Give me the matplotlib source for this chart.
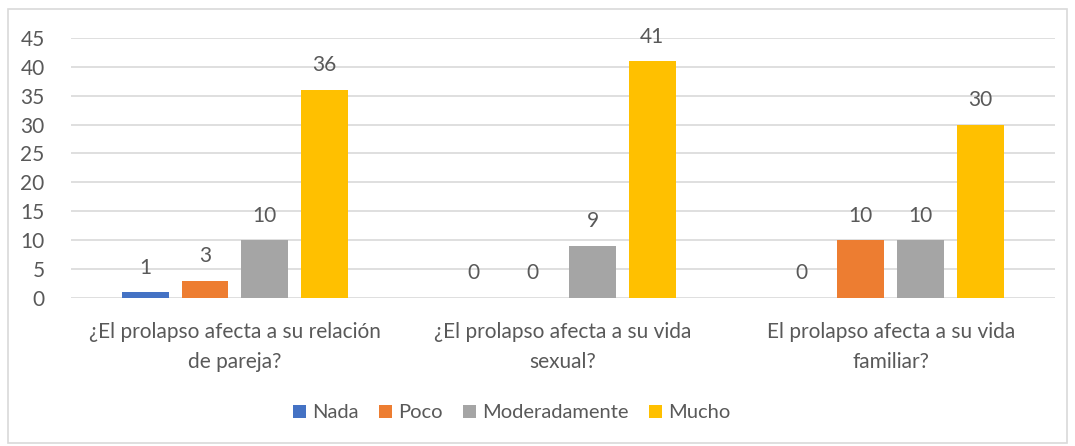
import matplotlib.pyplot as plt
import numpy as np
from matplotlib.patches import Rectangle

categories = [
    "¿El prolapso afecta a su relación\nde pareja?",
    "¿El prolapso afecta a su vida\nsexual?",
    "El prolapso afecta a su vida\nfamiliar?",
]
series = ["Nada", "Poco", "Moderadamente", "Mucho"]
values = {
    "Nada": [1, 0, 0],
    "Poco": [3, 0, 10],
    "Moderadamente": [10, 9, 10],
    "Mucho": [36, 41, 30],
}
colors = ["#4472C4", "#ED7D31", "#A5A5A5", "#FFC000"]

plt.rcParams["font.family"] = ["Lato", "DejaVu Sans"]
text_color = "#595959"

fig = plt.figure(figsize=(10.75, 4.46), dpi=100)
ax = fig.add_axes([0.066, 0.332, 0.915, 0.583])

x = np.arange(len(categories))
pitch = 0.182
width = 0.143
for i, (name, color) in enumerate(zip(series, colors)):
    offs = (i - 1.5) * pitch
    bars = ax.bar(x + offs, values[name], width, color=color, label=name, zorder=3)
    for b, v in zip(bars, values[name]):
        ax.text(b.get_x() + b.get_width() / 2, v + 2.5, str(v), ha="center",
                va="bottom", fontsize=15, color=text_color)

ax.set_xlim(-0.5, 2.5)
ax.set_ylim(0, 45)
ax.set_yticks(range(0, 46, 5))
ax.yaxis.grid(True, color="#d9d9d9", linewidth=1.2, zorder=0)
ax.tick_params(axis="y", length=0, labelsize=15, labelcolor=text_color, pad=19)
ax.tick_params(axis="x", length=0, labelsize=15, labelcolor=text_color, pad=17)
ax.set_xticks(x)
ax.set_xticklabels(categories, linespacing=1.65)
for s in ax.spines.values():
    s.set_visible(False)

fig.legend(loc="center", bbox_to_anchor=(0.476, 0.074), ncol=4, frameon=False,
           fontsize=14.5, labelcolor=text_color, handlelength=0.65, handleheight=0.65,
           handletextpad=0.3, columnspacing=1.0)

fig.add_artist(Rectangle((0.007, 0.007), 0.986, 0.972, transform=fig.transFigure,
                         fill=False, edgecolor="#d9d9d9", linewidth=1.2))

fig.savefig("out.png", dpi=100)
